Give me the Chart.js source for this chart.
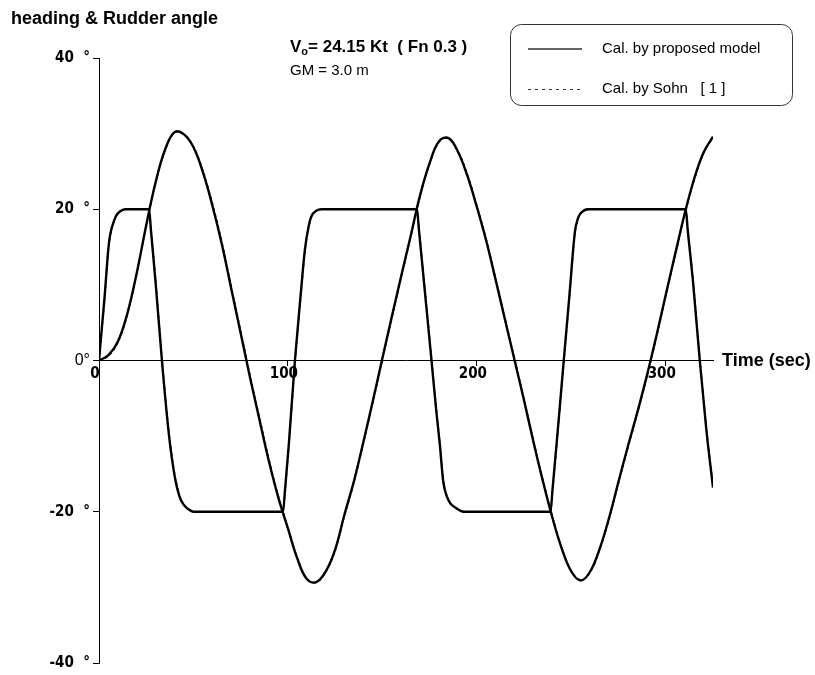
<!DOCTYPE html>
<html>
<head>
<meta charset="utf-8">
<title>heading & Rudder angle</title>
<script src="https://cdn.jsdelivr.net/npm/chart.js@4.4.1/dist/chart.umd.min.js"></script>
<style>
  html, body { margin: 0; padding: 0; background: #fff; }
  #zigzag { display: block; }
</style>
</head>
<body>
<canvas id="zigzag" width="815" height="675"></canvas>
<script>
// heading, sampled every 5 sec
var headingTime = [0, 5, 10, 15, 20, 25, 30, 35, 40, 45, 50, 55, 60, 65, 70, 75, 80, 85, 90, 95,
  100, 105, 110, 115, 120, 125, 130, 135, 140, 145, 150, 155, 160, 165, 170, 175, 180, 185, 190, 195,
  200, 205, 210, 215, 220, 225, 230, 235, 240, 245, 250, 255, 260, 265, 270, 275, 280, 285, 290, 295,
  300, 305, 310, 315, 320, 325];
var headingModel = [0, 0.7, 2.5, 6.2, 11.6, 17.9, 23.6, 27.9, 30.2, 29.9, 28.2, 24.9, 20.5, 15.4, 9.5, 3.6, -2.3, -7.9, -13.4, -18.2,
  -22.2, -26.2, -28.9, -29.3, -27.9, -25.0, -20.3, -15.9, -10.7, -5.3, 0.3, 5.8, 11.2, 16.5, 21.9, 26.1, 29.0, 29.4, 27.6, 24.4,
  20.3, 15.8, 10.6, 5.3, 0.0, -5.3, -10.8, -16.0, -20.8, -24.9, -27.9, -29.1, -27.9, -24.9, -20.8, -16.0, -11.3, -6.8, -2.0, 3.2,
  8.7, 14.1, 19.4, 24.0, 27.5, 29.6];
var headingSohn = [0, 0.6, 2.4, 6.1, 11.5, 17.8, 23.5, 27.8, 30.1, 29.9, 28.3, 25.1, 20.8, 15.7, 9.8, 3.9, -2.0, -7.6, -13.1, -18.0,
  -22.1, -26.1, -28.9, -29.3, -28.0, -25.1, -20.5, -16.1, -10.9, -5.5, 0.1, 5.6, 11.0, 16.3, 21.7, 26.0, 28.9, 29.4, 27.7, 24.6,
  20.5, 16.0, 10.8, 5.5, 0.2, -5.1, -10.6, -15.8, -20.6, -24.8, -27.8, -29.0, -28.0, -25.0, -21.0, -16.2, -11.5, -7.0, -2.2, 3.0,
  8.5, 13.9, 19.2, 23.8, 27.4, 29.5];

// rudder angle, 20/20 zig-zag
var rudderTime = [0, 1.5, 3, 4.5, 5.5, 6.5, 7.6, 9, 11, 14,
  26.5, 27.5, 30, 33.3, 37, 40.2, 42.5, 44.6, 47, 50,
  97.4, 98.4, 100.5, 103.7, 107, 109, 111, 112.5, 115, 118,
  168.3, 169.3, 172, 176, 178.5, 180.4, 182.2, 184, 186, 189, 193,
  239, 240, 242.5, 246, 249, 251.9, 253.5, 255.5, 259,
  310.6, 311.6, 314.5, 318, 321.5, 325];
var rudderModel = [0, 4.3, 8.5, 13.5, 16, 17.3, 18.2, 19.1, 19.7, 20,
  20, 17.2, 10.2, 0, -9.8, -15.5, -17.9, -19.0, -19.6, -20,
  -20, -17.3, -11, 0, 9.4, 14.7, 17.8, 19.1, 19.8, 20,
  20, 17.4, 10.4, 0, -6.6, -11.1, -16.0, -17.9, -18.9, -19.5, -20,
  -20, -17.2, -10.2, 0, 8.6, 17.0, 18.8, 19.6, 20,
  20, 17.3, 10.2, 0, -9.2, -16.8];
var rudderSohn = [0, 4.0, 8.2, 13.2, 15.8, 17.2, 18.2, 19.1, 19.7, 20,
  20, 17.4, 10.5, 0.4, -9.4, -15.2, -17.8, -19.0, -19.6, -20,
  -20, -17.5, -11.3, -0.4, 9.0, 14.4, 17.6, 19.0, 19.8, 20,
  20, 17.6, 10.7, 0.3, -6.3, -10.8, -15.7, -17.8, -18.9, -19.5, -20,
  -20, -17.4, -10.5, -0.3, 8.3, 16.8, 18.7, 19.6, 20,
  20, 17.5, 10.5, 0.3, -8.9, -16.5];

var xTicks = [0, 100, 200, 300];
var yTicks = [-40, -20, 0, 20, 40];
var yTickLabels = ["-40  \u00b0", "-20  \u00b0", "0\u00b0", "20  \u00b0", "40  \u00b0"];

var seriesNames = ["Cal. by proposed model", "Cal. by Sohn   [ 1 ]"];

var narrowFont = '"Liberation Sans Narrow", "Arial Narrow", "DejaVu Sans Condensed", sans-serif';
var plainFont = '"Liberation Sans", Arial, sans-serif';

function toPoints(xs, ys) {
  var pts = [];
  for (var i = 0; i < xs.length; i++) {
    pts.push({ x: xs[i], y: ys[i] });
  }
  return pts;
}

// title, run conditions, legend box and axis name
var textPlugin = {
  id: 'textPlugin',
  afterDraw: function(chart) {
    var ctx = chart.ctx;
    var xScale = chart.scales.x;
    var yScale = chart.scales.y;
    ctx.save();
    ctx.fillStyle = '#000';
    ctx.textBaseline = 'alphabetic';
    ctx.textAlign = 'left';

    ctx.font = 'bold 18px ' + plainFont;
    ctx.fillText('heading & Rudder angle', 11, 24);

    ctx.font = 'bold 17px ' + plainFont;
    ctx.fillText('V', 290, 52);
    var vx = 290 + ctx.measureText('V').width;
    ctx.font = 'bold 11px ' + plainFont;
    ctx.fillText('o', vx, 55);
    vx += ctx.measureText('o').width;
    ctx.font = 'bold 17px ' + plainFont;
    ctx.fillText('= 24.15 Kt  ( Fn 0.3 )', vx, 52);

    ctx.font = '15px ' + plainFont;
    ctx.fillText('GM = 3.0 m', 290, 75);

    // legend
    var bx = 510.5, by = 24.5, bw = 282, bh = 81, r = 11;
    ctx.beginPath();
    ctx.moveTo(bx + r, by);
    ctx.lineTo(bx + bw - r, by);
    ctx.arcTo(bx + bw, by, bx + bw, by + r, r);
    ctx.lineTo(bx + bw, by + bh - r);
    ctx.arcTo(bx + bw, by + bh, bx + bw - r, by + bh, r);
    ctx.lineTo(bx + r, by + bh);
    ctx.arcTo(bx, by + bh, bx, by + bh - r, r);
    ctx.lineTo(bx, by + r);
    ctx.arcTo(bx, by, bx + r, by, r);
    ctx.closePath();
    ctx.strokeStyle = '#333';
    ctx.lineWidth = 1;
    ctx.stroke();

    ctx.beginPath();
    ctx.lineWidth = 1.6;
    ctx.moveTo(528, 49);
    ctx.lineTo(582, 49);
    ctx.stroke();

    ctx.beginPath();
    ctx.lineWidth = 1;
    ctx.setLineDash([3, 4]);
    ctx.moveTo(528, 89.5);
    ctx.lineTo(582, 89.5);
    ctx.stroke();
    ctx.setLineDash([]);

    ctx.font = '15px ' + plainFont;
    ctx.textBaseline = 'middle';
    ctx.fillText(seriesNames[0], 602, 49);
    ctx.fillText(seriesNames[1], 602, 89);

    // axis name at the end of the time axis
    ctx.font = 'bold 18px ' + plainFont;
    ctx.fillText('Time (sec)', xScale.right + 9, yScale.getPixelForValue(0) + 1);
    ctx.restore();
  }
};

function showZigZag() {
  var config = {
    type: 'line',
    data: {
      datasets: [{
        label: seriesNames[0],
        data: toPoints(headingTime, headingModel),
        borderColor: '#000',
        borderWidth: 2.4,
        pointRadius: 0,
        tension: 0.4,
        order: 0
      }, {
        label: seriesNames[0],
        data: toPoints(rudderTime, rudderModel),
        borderColor: '#000',
        borderWidth: 2.4,
        pointRadius: 0,
        cubicInterpolationMode: 'monotone',
        order: 0
      }, {
        label: seriesNames[1],
        data: toPoints(headingTime, headingSohn),
        borderColor: '#000',
        borderWidth: 1.4,
        borderDash: [3, 3],
        pointRadius: 0,
        tension: 0.4,
        order: 1
      }, {
        label: seriesNames[1],
        data: toPoints(rudderTime, rudderSohn),
        borderColor: '#000',
        borderWidth: 1.4,
        borderDash: [3, 3],
        pointRadius: 0,
        cubicInterpolationMode: 'monotone',
        order: 1
      }]
    },
    options: {
      responsive: false,
      animation: false,
      layout: { padding: { left: 0, right: 102, top: 58, bottom: 9 } },
      plugins: {
        legend: { display: false },
        tooltip: { enabled: false }
      },
      scales: {
        x: {
          type: 'linear',
          min: 0,
          max: 325,
          position: { y: 0 },
          border: { color: '#000', width: 1 },
          grid: { drawOnChartArea: false, color: '#000', tickLength: 5 },
          afterBuildTicks: function(scale) {
            scale.ticks = xTicks.map(function(v) { return { value: v }; });
          },
          ticks: {
            color: '#000',
            padding: 0,
            labelOffset: -4,
            maxRotation: 0,
            autoSkip: false,
            font: { family: narrowFont, size: 15, weight: 'bold' }
          }
        },
        y: {
          type: 'linear',
          min: -40,
          max: 40,
          border: { color: '#000', width: 1 },
          grid: { drawOnChartArea: false, color: '#000', tickLength: 6 },
          afterBuildTicks: function(scale) {
            scale.ticks = yTicks.map(function(v) { return { value: v }; });
          },
          afterFit: function(scale) {
            scale.width = 99;
          },
          ticks: {
            color: '#000',
            padding: 3,
            callback: function(value) {
              return yTickLabels[yTicks.indexOf(value)];
            },
            font: function(c) {
              if (c.tick && c.tick.value === 0) {
                return { family: plainFont, size: 16, weight: 'normal' };
              }
              return { family: narrowFont, size: 15, weight: 'bold' };
            }
          }
        }
      }
    },
    plugins: [textPlugin]
  };

  new Chart(document.getElementById('zigzag').getContext('2d'), config);
}

document.addEventListener('DOMContentLoaded', showZigZag, false);
</script>
</body>
</html>
